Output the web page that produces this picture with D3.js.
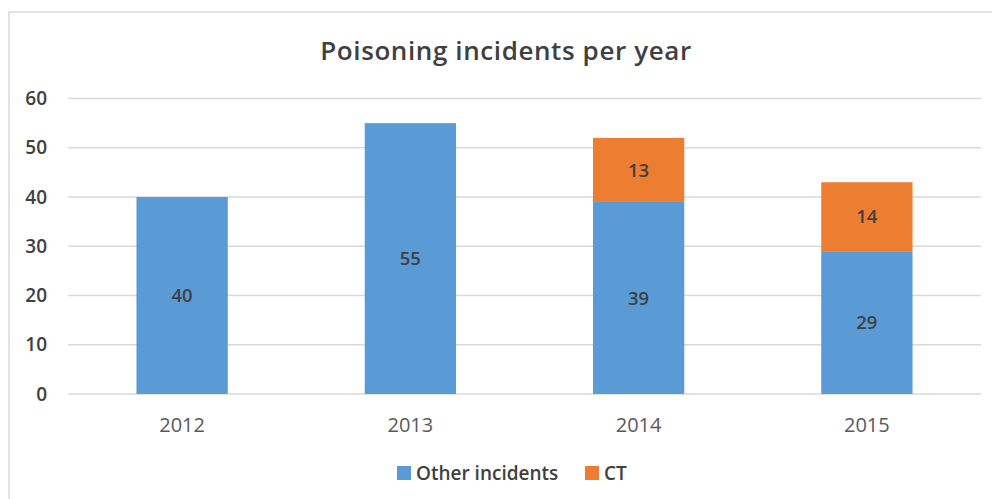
<!DOCTYPE html>
<meta charset="utf-8">
<script src="https://d3js.org/d3.v7.min.js"></script>
<style>
  body { margin: 0; background: #fff; font-family: "Open Sans", "Noto Sans", sans-serif; }
  .grid line { stroke: #d9d9d9; stroke-width: 1.3; }
  .barLabel { fill: #404040; font-size: 18.5px; font-weight: 600; text-anchor: middle; }
  .title { fill: #404040; font-size: 26px; font-weight: 600; letter-spacing: 0.6px; text-anchor: middle; }
</style>
<body></body>
<script>

var years = ["2012", "2013", "2014", "2015"];
var otherIncidents = [40, 55, 39, 29];
var ctIncidents = [0, 0, 13, 14];
var seriesNames = ["Other incidents", "CT"];
var yTicks = [0, 10, 20, 30, 40, 50, 60];

var width = 992, height = 499;
var plot = {left: 68, right: 981, top: 98.5, bottom: 394};

var svg = d3.select("body").append("svg")
    .attr("width", width)
    .attr("height", height);

// chart frame
svg.append("rect")
    .attr("x", 9).attr("y", 12)
    .attr("width", 1000).attr("height", 600)
    .attr("fill", "#fff")
    .attr("stroke", "#d9d9d9")
    .attr("stroke-width", 1.5);

var x = d3.scaleBand()
    .domain(years)
    .range([plot.left, plot.right])
    .paddingInner(0.6)
    .paddingOuter(0.3);

var y = d3.scaleLinear()
    .domain([0, 60])
    .range([plot.bottom, plot.top]);

var color = d3.scaleOrdinal()
    .domain(seriesNames)
    .range(["#5b9bd5", "#ed7d31"]);

// gridlines
svg.append("g")
    .attr("class", "grid")
    .selectAll("line")
    .data(yTicks)
    .enter().append("line")
      .attr("x1", plot.left).attr("x2", plot.right)
      .attr("y1", function(d) { return y(d); })
      .attr("y2", function(d) { return y(d); });

// y axis labels
var yAxis = svg.append("g")
    .attr("transform", "translate(" + (plot.left - 21) + ",0)")
    .call(d3.axisLeft(y).tickValues(yTicks).tickSize(0).tickPadding(0));
yAxis.select(".domain").remove();
yAxis.selectAll("text")
    .attr("fill", "#404040")
    .style("font-family", "'Open Sans', sans-serif")
    .style("font-size", "19px")
    .style("font-weight", "600");

// x axis labels
var xAxis = svg.append("g")
    .attr("transform", "translate(0," + plot.bottom + ")")
    .call(d3.axisBottom(x).tickSize(0).tickPadding(0));
xAxis.select(".domain").remove();
xAxis.selectAll("text")
    .attr("dy", null)
    .attr("y", 38)
    .attr("fill", "#595959")
    .style("font-family", "'Open Sans', sans-serif")
    .style("font-size", "20px");

// stacked data
var rows = years.map(function(yr, i) {
  return {year: yr, "Other incidents": otherIncidents[i], "CT": ctIncidents[i]};
});
var stack = d3.stack().keys(seriesNames)(rows);

var layers = svg.append("g").selectAll("g")
    .data(stack)
    .enter().append("g")
      .attr("fill", function(d) { return color(d.key); });

layers.selectAll("rect")
    .data(function(d) { return d.filter(function(p) { return p[1] > p[0]; }); })
    .enter().append("rect")
      .attr("x", function(d) { return x(d.data.year); })
      .attr("width", x.bandwidth())
      .attr("y", function(d) { return y(d[1]); })
      .attr("height", function(d) { return y(d[0]) - y(d[1]); });

layers.selectAll("text")
    .data(function(d) { return d.filter(function(p) { return p[1] > p[0]; }); })
    .enter().append("text")
      .attr("class", "barLabel")
      .attr("x", function(d) { return x(d.data.year) + x.bandwidth() / 2; })
      .attr("y", function(d) { return (y(d[0]) + y(d[1])) / 2; })
      .attr("dy", "0.36em")
      .text(function(d) { return d[1] - d[0]; });

// title
svg.append("text")
    .attr("class", "title")
    .attr("x", 506)
    .attr("y", 60)
    .text("Poisoning incidents per year");

// legend
var legend = svg.append("g")
    .attr("transform", "translate(397,466)");
var item = legend.selectAll("g")
    .data(seriesNames)
    .enter().append("g")
      .attr("transform", function(d, i) { return "translate(" + (i * 188) + ",0)"; });
item.append("rect")
    .attr("width", 14).attr("height", 14)
    .attr("fill", function(d) { return color(d); });
item.append("text")
    .attr("x", 19)
    .attr("y", 7)
    .attr("dy", "0.36em")
    .attr("fill", "#404040")
    .style("font-size", "19px")
    .style("font-weight", "600")
    .text(function(d) { return d; });

</script>
